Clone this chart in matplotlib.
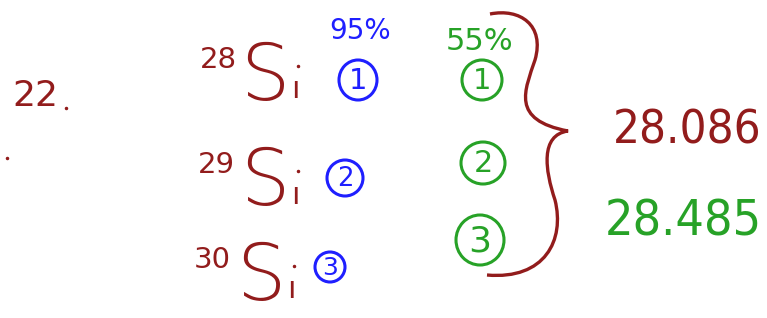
import matplotlib
matplotlib.use("Agg")
import matplotlib.pyplot as plt
from matplotlib.patches import Ellipse, PathPatch
from matplotlib.path import Path

# colours of the pens
red = "#921c1c"
blue = "#1f1fff"
green = "#27a227"

# what is written on the board
mass_numbers = ["28", "29", "30"]
element = "Si"
pct_a = "95%"
pct_b = "55%"
circle_nums = ["1", "2", "3"]
answers = ["28.086", "28.485"]
note = "22."

# layout (pixels, origin top left)
iso_y = [78, 183, 278]
num_x = [218, 216, 212]
s_x = [265, 265, 261]
blue_c = [(358, 80, 38, 40), (345, 178, 36, 36), (330, 267, 30, 30)]
green_c = [(482, 80, 40, 40), (483, 163, 44, 42), (480, 240, 48, 50)]

fig = plt.figure(figsize=(7.67, 3.18), dpi=100)
ax = fig.add_axes([0, 0, 1, 1])
ax.set_xlim(0, 767)
ax.set_ylim(318, 0)
ax.axis("off")

ax.text(12, 96, note[:2], color=red, fontsize=26, va="center", ha="left")
ax.plot([66, 7], [108, 158], "o", color=red, ms=1.5)

for i in range(3):
    y = iso_y[i]
    ax.text(num_x[i], y - 18, mass_numbers[i], color=red, fontsize=21,
            ha="center", va="center")
    ax.text(s_x[i], y, element[0], color=red, fontsize=56,
            ha="center", va="center", fontweight="light")
    ax.text(s_x[i] + 30, y + 12, "ı", color=red, fontsize=22,
            ha="center", va="center")
    ax.plot(s_x[i] + 33, y - 12, "o", color=red, ms=1.5)

    cx, cy, w, h = blue_c[i]
    ax.add_patch(Ellipse((cx, cy), w, h, fill=False, ec=blue, lw=2.2))
    ax.text(cx, cy + 1, circle_nums[i], color=blue, fontsize=max(h * 0.52, 18),
            ha="center", va="center")

    cx, cy, w, h = green_c[i]
    ax.add_patch(Ellipse((cx, cy), w, h, fill=False, ec=green, lw=2.2))
    ax.text(cx, cy + 1, circle_nums[i], color=green, fontsize=h * 0.52,
            ha="center", va="center")

ax.text(360, 31, pct_a, color=blue, fontsize=20, ha="center", va="center")
ax.text(479, 42, pct_b, color=green, fontsize=22, ha="center", va="center")

# curly brace
verts = [(490, 14), (520, 8), (545, 25), (535, 60),
         (525, 90), (510, 120), (568, 131),
         (540, 135), (545, 170), (555, 200),
         (565, 240), (545, 280), (487, 275)]
codes = [Path.MOVETO] + [Path.CURVE4] * 12
ax.add_patch(PathPatch(Path(verts, codes), fill=False, ec=red, lw=2.4))

ax.text(687, 131, answers[0], color=red, fontsize=34, ha="center",
        va="center", fontstretch="condensed")
ax.text(683, 222, answers[1], color=green, fontsize=36, ha="center",
        va="center", fontstretch="condensed")

fig.savefig("out.png", dpi=100)
